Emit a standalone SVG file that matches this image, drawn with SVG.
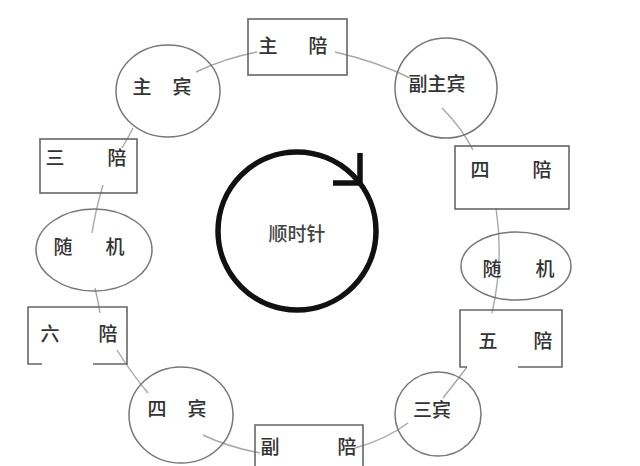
<svg xmlns="http://www.w3.org/2000/svg" width="640" height="466" viewBox="0 0 640 466">
<style>
.box{fill:none;stroke:#666;stroke-width:1.6}
.ell{fill:none;stroke:#777;stroke-width:1.5}
.con{fill:none;stroke:#a8a8a8;stroke-width:1.4}
text{font-family:"Noto Sans CJK SC","Noto Sans",sans-serif;font-size:19px;font-weight:500;fill:#333;text-anchor:middle;dominant-baseline:central}
</style>
<rect width="640" height="466" fill="#ffffff"/>
<g id="connectors">
<path class="con" d="M196,72 Q225,58 257,52"/>
<path class="con" d="M335,52 Q378,62 410,78"/>
<path class="con" d="M442,108 Q462,128 473,150"/>
<path class="con" d="M496,208 Q504,260 492,313"/>
<path class="con" d="M467,367 Q455,383 443,398"/>
<path class="con" d="M408,423 Q385,440 355,448"/>
<path class="con" d="M260,453 Q228,447 203,435"/>
<path class="con" d="M148,393 Q132,374 117,350"/>
<path class="con" d="M100,313 Q98,300 95,288"/>
<path class="con" d="M92,233 Q96,208 103,185"/>
<path class="con" d="M122,148 Q128,138 133,128"/>
</g>
<g id="zhupei">
<rect class="box" x="248" y="19" width="99" height="56"/>
<text x="268" y="44">主</text><text x="318" y="44">陪</text>
</g>
<g id="zhubin">
<ellipse class="ell" cx="168" cy="91" rx="52" ry="46"/>
<text x="142" y="85">主</text><text x="182" y="85">宾</text>
</g>
<g id="fuzhubin">
<ellipse class="ell" cx="446" cy="88" rx="51" ry="50"/>
<text x="437" y="82">副主宾</text>
</g>
<g id="sipei">
<rect class="box" x="455" y="146" width="114" height="63"/>
<text x="480" y="168">四</text><text x="542" y="168">陪</text>
</g>
<g id="suiji-right">
<ellipse class="ell" cx="516" cy="266" rx="55" ry="34"/>
<text x="492" y="267">随</text><text x="545" y="267">机</text>
</g>
<g id="wupei">
<path class="box" d="M467,367 H460 V310 H562 V367 H518"/>
<text x="488" y="339">五</text><text x="543" y="339">陪</text>
</g>
<g id="sanbin">
<ellipse class="ell" cx="438" cy="414" rx="43" ry="42"/>
<text x="432" y="408">三宾</text>
</g>
<g id="fupei">
<path class="box" d="M255,470 V425 H363 V470"/>
<text x="270" y="445">副</text><text x="347" y="445">陪</text>
</g>
<g id="sibin">
<ellipse class="ell" cx="181" cy="415" rx="52" ry="48"/>
<text x="157" y="407">四</text><text x="197" y="407">宾</text>
</g>
<g id="liupei">
<path class="box" d="M42,364 H28 V307 H127 V364 H93"/>
<text x="50" y="332">六</text><text x="108" y="332">陪</text>
</g>
<g id="suiji-left">
<ellipse class="ell" cx="94" cy="250" rx="58" ry="41"/>
<text x="63" y="245">随</text><text x="115" y="245">机</text>
</g>
<g id="sanpei">
<rect class="box" x="40" y="139" width="97" height="54"/>
<text x="55" y="156">三</text><text x="117" y="156">陪</text>
</g>
<g id="clockwise">
<circle cx="297" cy="231" r="79" fill="none" stroke="#111" stroke-width="5.5"/>
<path d="M360,153 V185 M333,183 H362" fill="none" stroke="#111" stroke-width="5.5"/>
<text x="297" y="232" font-size="17" style="fill:#444">顺时针</text>
</g>
</svg>
